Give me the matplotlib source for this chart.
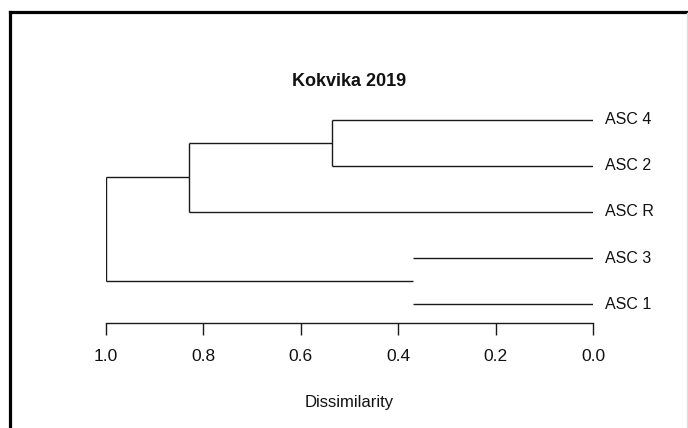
import matplotlib
matplotlib.use("Agg")
from matplotlib import pyplot as plt
from matplotlib.lines import Line2D

plt.rcParams['font.family'] = ['Liberation Sans', 'DejaVu Sans']

# 数据
title = "Kokvika 2019"
leaf_names = ["ASC 4", "ASC 2", "ASC R", "ASC 3", "ASC 1"]  # 从上到下
# 合并 (左, 右, 高度)，新节点编号从 5 开始
merges = [(0, 1, 0.535), (5, 2, 0.83), (3, 4, 0.37), (6, 7, 1.0)]
# 原图中 ASC 3 / ASC 1 的竖线没有画出来
hidden_vlines = [7]
x_ticks = [1.0, 0.8, 0.6, 0.4, 0.2, 0.0]
x_label = "Dissimilarity"

W, H = 688, 428
fig = plt.figure(figsize=(W / 100, H / 100), dpi=100)

# 坐标轴位置 (像素 -> 比例)
x_left, x_right = 105.7, 593.2
y_axis, y_top = 323, 101.4
ax = fig.add_axes([x_left / W, 1 - y_axis / H, (x_right - x_left) / W, (y_axis - y_top) / H])

n = len(leaf_names)
ypos = {i: n - i for i in range(n)}  # 叶子的 y 坐标
hpos = {i: 0.0 for i in range(n)}
lc = "#1a1a1a"
lw = 1.0

for k, (a, b, h) in enumerate(merges):
    node = n + k
    for c in (a, b):
        ax.plot([hpos[c], h], [ypos[c], ypos[c]], color=lc, lw=lw, solid_capstyle="butt")
    if node not in hidden_vlines:
        ax.plot([h, h], [ypos[a], ypos[b]], color=lc, lw=lw, solid_capstyle="butt")
    ypos[node] = (ypos[a] + ypos[b]) / 2
    hpos[node] = h

for i, name in enumerate(leaf_names):
    ax.text(-0.025, ypos[i], name, ha="left", va="center", fontsize=11.5, color="#111111", clip_on=False)

ax.set_xlim(1.0, 0.0)
ax.set_ylim(0.59, 5.4)
ax.set_xticks(x_ticks)
ax.set_xticklabels([f"{t:.1f}" for t in x_ticks], fontsize=12.5, color="#111111")
ax.tick_params(axis="x", direction="out", length=8.5, width=1.0, pad=10, color=lc)
ax.set_yticks([])
for s in ["top", "right", "left"]:
    ax.spines[s].set_visible(False)
ax.spines["bottom"].set_linewidth(1.0)
ax.spines["bottom"].set_color(lc)

fig.text((x_left + x_right) / 2 / W, 1 - 82 / H, title, ha="center", va="center",
         fontsize=13, fontweight="bold", color="#111111")
fig.text((x_left + x_right) / 2 / W, 1 - 403 / H, x_label, ha="center", va="center",
         fontsize=12, color="#111111")

# 外框
fig.add_artist(Line2D([10 / W, 10 / W], [0, 1 - 11.5 / H], color="black", lw=2.3,
                      solid_capstyle="projecting", transform=fig.transFigure))
fig.add_artist(Line2D([10 / W, 1], [1 - 11.5 / H, 1 - 11.5 / H], color="black", lw=2.3,
                      solid_capstyle="projecting", transform=fig.transFigure))
fig.add_artist(Line2D([686.5 / W, 686.5 / W], [0, 1 - 13 / H], color="#dddddd", lw=1.0, transform=fig.transFigure))

fig.savefig("out.png", dpi=100)
